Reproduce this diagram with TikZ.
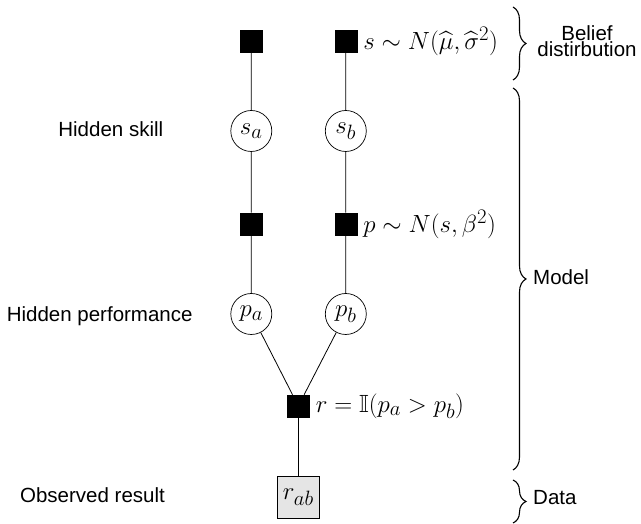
\documentclass[tikz,border=0pt]{standalone}
\usepackage{amsmath,amssymb}
\usepackage{fontspec}
\setsansfont{Liberation Sans}
\usetikzlibrary{decorations.pathreplacing}

\newcommand{\mathsz}{\fontsize{24.88}{30}\selectfont}
\newcommand{\capsz}{\fontsize{20.5}{24}\selectfont\sffamily}

\begin{document}
\begin{tikzpicture}[x=1pt,y=1pt,
  factor/.style={draw, fill=black, minimum size=22pt, inner sep=0pt, line width=0.6pt},
  latent/.style={circle, draw, minimum size=41pt, inner sep=0pt, line width=0.7pt, font=\mathsz},
  observed/.style={draw, fill=gray!20, minimum size=42pt, inner sep=0pt, line width=0.9pt, font=\mathsz},
  edge/.style={line width=0.8pt},
  caption/.style={font=\capsz, anchor=base, inner sep=0pt},
  flabel/.style={anchor=west, inner sep=0pt, xshift=6pt, font=\mathsz},
  groupbrace/.style={decorate, decoration={brace, amplitude=13pt}, line width=1.1pt},
  grouptext/.style={anchor=west, inner sep=0pt, font=\capsz}
]
\useasboundingbox (0,0) rectangle (641,524);

% factor graph: player a (left column) and player b (right column)
\node[factor] (fa1) at (251.3,483) {};
\node[factor] (fb1) at (345.8,483) {};
\node[latent] (sa) at (251.3,393) {$s_a$};
\node[latent] (sb) at (345.8,393) {$s_b$};
\node[factor] (fa2) at (251.3,300) {};
\node[factor] (fb2) at (345.8,300) {};
\node[latent] (pa) at (251.3,210) {$p_a$};
\node[latent] (pb) at (345.8,210) {$p_b$};
\node[factor] (fr) at (298.3,118) {};
\node[observed] (rab) at (298.3,26.5) {$r_{ab}$};

% factor descriptions
\node[flabel] (lb1) at (fb1.east) {$s \sim N(\widehat{\mu},\widehat{\sigma}^2)$};
\node[flabel] (lb2) at (fb2.east) {$p \sim N(s,\beta^2)$};
\node[flabel] (lr) at (fr.east) {$r = \mathbb{I}(p_a > p_b)$};

% connectors
\draw[edge] (fa1) -- (sa) -- (fa2) -- (pa) -- (fr);
\draw[edge] (fb1) -- (sb) -- (fb2) -- (pb) -- (fr);
\draw[edge] (fr) -- (rab);

% row captions
\node[caption] (c1) at (110.8,387.3) {Hidden skill};
\node[caption] (c2) at (99.7,202.3) {Hidden performance};
\node[caption] (c3) at (92.5,21) {Observed result};

% groupings on the right
\coordinate (b1t) at (513,517);
\coordinate (b1b) at (513,444);
\coordinate (b2t) at (513,436);
\coordinate (b2b) at (513,54);
\coordinate (b3t) at (513,44);
\coordinate (b3b) at (513,1);
\draw[groupbrace] (b1t) -- (b1b);
\draw[groupbrace] (b2t) -- (b2b);
\draw[groupbrace] (b3t) -- (b3b);
\node[caption] (g1a) at (587,483) {Belief};
\node[caption] (g1b) at (587,467.5) {distirbution};
\node[grouptext] (g2) at (533,247) {Model};
\node[grouptext] (g3) at (533,26) {Data};
\end{tikzpicture}
\end{document}
